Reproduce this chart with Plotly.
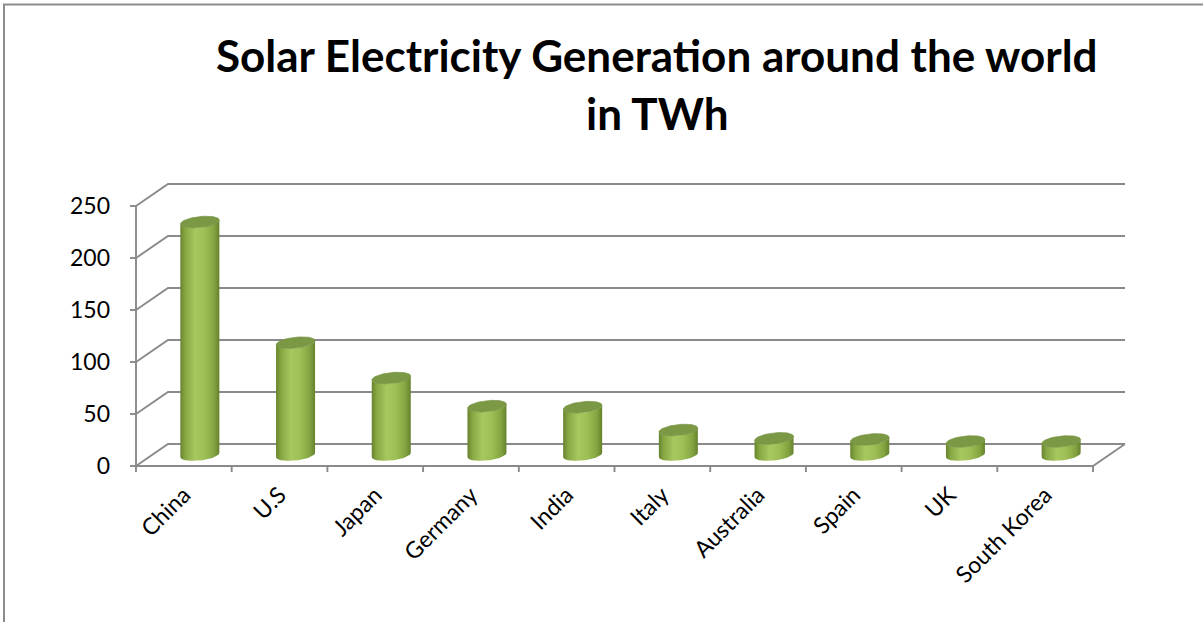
import numpy as np
import plotly.graph_objects as go

# Solar electricity generation by country (TWh)
categories = ["China", "U.S", "Japan", "Germany", "India", "Italy",
              "Australia", "Spain", "UK", "South Korea"]
generation_twh = [224, 108, 74, 47, 46, 24, 16, 15, 13, 13]
y_tick_values = [0, 50, 100, 150, 200, 250]

W, H = 1203, 622

# Pixel frame of the pseudo-3D box
X0 = 136.0        # left edge of the first category slot (front plane)
SLOT = 95.7       # pixels per category
Y0 = 466.0        # pixel row of value 0 on the front plane
PPU = 1.04        # pixels per TWh
DEPTH_DX, DEPTH_DY = 32.0, 22.0   # oblique depth offset of the back wall

# Plot area in pixels
L, R, T, B = 124, 1137, 172, 476


def xdata(px):
    return -0.5 + (px - X0) / SLOT


def ydata(py):
    return (Y0 - py) / PPU


def xpaper(px):
    return (px - L) / (R - L)


def ypaper(py):
    return (B - py) / (B - T)


dxc = DEPTH_DX / SLOT
dyv = DEPTH_DY / PPU
n = len(categories)
x_left, x_right = -0.5, n - 0.5

GRID = "#8a8a8a"
fig = go.Figure()

# Walls: perspective gridlines, front value axis, floor edges and tick marks
gx, gy = [], []
top_val = max(y_tick_values)
for v in y_tick_values:
    gx += [x_left, x_left + dxc, x_right + dxc, None]
    gy += [v, v + dyv, v + dyv, None]
    # value-axis tick mark
    gx += [x_left - 6 / SLOT, x_left, None]
    gy += [v, v, None]
gx += [x_left, x_left, None]
gy += [0, top_val, None]
gx += [x_left, x_right, x_right + dxc, None]
gy += [0, 0, dyv, None]
for k in range(n + 1):
    bx = x_left + k
    gx += [bx, bx, None]
    gy += [0, -6 / PPU, None]
fig.add_trace(go.Scatter(x=gx, y=gy, mode="lines",
                         line=dict(color=GRID, width=1.9),
                         hoverinfo="skip", showlegend=False))

# Cylinders, placed half-way into the depth of the box
radius = 19.5 / SLOT
semi_minor = 5.5 / PPU
shear = 2.0 / PPU
base = dyv / 2
body_scale = [[0.0, "#67832e"], [0.12, "#86a642"], [0.38, "#a6c85f"],
              [0.62, "#9ebf56"], [0.86, "#84a441"], [1.0, "#66822d"]]

for i, val in enumerate(generation_twh):
    cx = i + dxc / 2
    top = base + val
    th_front = np.linspace(np.pi, 2 * np.pi, 40)
    bx = cx + radius * np.cos(th_front)
    by = base + semi_minor * np.sin(th_front) + shear * np.cos(th_front)
    tx = (cx + radius * np.cos(th_front))[::-1]
    ty = (top + semi_minor * np.sin(th_front) + shear * np.cos(th_front))[::-1]
    fig.add_trace(go.Scatter(
        x=np.concatenate([bx, tx, bx[:1]]),
        y=np.concatenate([by, ty, by[:1]]),
        mode="lines", fill="toself", line=dict(width=0, color="rgba(0,0,0,0)"),
        fillgradient=dict(type="horizontal", colorscale=body_scale),
        hoverinfo="skip", showlegend=False))
    th = np.linspace(0, 2 * np.pi, 80)
    fig.add_trace(go.Scatter(
        x=cx + radius * np.cos(th),
        y=top + semi_minor * np.sin(th) + shear * np.cos(th),
        mode="lines", fill="toself", fillcolor="#7b9944",
        line=dict(width=0.6, color="#74913f"),
        hoverinfo="skip", showlegend=False,
        name=categories[i]))

FONT = "Lato"
fig.update_layout(
    width=W, height=H,
    margin=dict(l=L, r=W - R, t=T, b=H - B, pad=0),
    paper_bgcolor="white", plot_bgcolor="white",
    showlegend=False,
    xaxis=dict(range=[xdata(L), xdata(R)], tickmode="array",
               tickvals=list(range(n)), ticktext=categories,
               tickangle=-45, ticks="", showgrid=False, zeroline=False,
               showline=False, tickfont=dict(family=FONT, size=23, color="#000"),
               fixedrange=True),
    yaxis=dict(range=[ydata(B), ydata(T)], tickmode="array",
               tickvals=y_tick_values, ticktext=[str(v) for v in y_tick_values],
               ticks="", ticklabelstandoff=13, showgrid=False, zeroline=False,
               showline=False, tickfont=dict(family=FONT, size=23, color="#000"),
               fixedrange=True),
    shapes=[
        dict(type="line", xref="paper", yref="paper",
             x0=xpaper(3), x1=xpaper(W), y0=ypaper(4.5), y1=ypaper(4.5),
             line=dict(color="#8c8c8c", width=2)),
        dict(type="line", xref="paper", yref="paper",
             x0=xpaper(4), x1=xpaper(4), y0=ypaper(4), y1=ypaper(H),
             line=dict(color="#8c8c8c", width=2)),
    ],
    annotations=[
        dict(text="<b>Solar Electricity Generation around the world</b>",
             xref="paper", yref="paper", x=xpaper(657), y=ypaper(55),
             xanchor="center", yanchor="middle", showarrow=False,
             font=dict(family=FONT, size=44, color="#000")),
        dict(text="<b>in TWh</b>",
             xref="paper", yref="paper", x=xpaper(657), y=ypaper(113),
             xanchor="center", yanchor="middle", showarrow=False,
             font=dict(family=FONT, size=44, color="#000")),
    ],
)

fig.write_html("out.html")
